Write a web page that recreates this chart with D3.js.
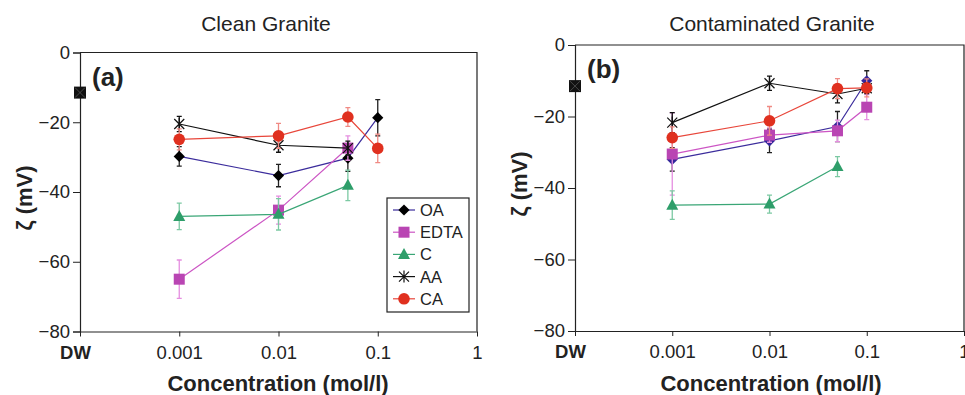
<!DOCTYPE html>
<html>
<head>
<meta charset="utf-8">
<script src="https://cdn.jsdelivr.net/npm/d3@7"></script>
<style>
  body { margin: 0; background: #fff; }
  svg { display: block; font-family: "Liberation Sans", Arial, sans-serif; }
</style>
</head>
<body>
<svg id="chart" width="965" height="395"></svg>
<script>
// concentrations (mol/l), DW plotted at left edge (1e-4)
var conc = [0.001, 0.01, 0.05, 0.1];
var xTicks = [0.0001, 0.001, 0.01, 0.1, 1];
var xTickLabels = ["DW", "0.001", "0.01", "0.1", "1"];
var yTicks = [0, -20, -40, -60, -80];
var seriesNames = ["OA", "EDTA", "C", "AA", "CA"];
var dwValue = -11.5;

// Clean granite (a)
var cleanOA = [-29.8, -35.3, -30.3, -18.7];
var cleanOAErr = [2.8, 3.2, 3.8, 5.2];
var cleanEDTA = [-65.0, -45.2, -27.4, null];
var cleanEDTAErr = [5.5, 4.0, 3.5, null];
var cleanC = [-47.0, -46.4, -38.1, null];
var cleanCErr = [3.8, 4.5, 4.4, null];
var cleanAA = [-20.5, -26.6, -27.4, null];
var cleanAAErr = [2.2, 2.0, 2.0, null];
var cleanCA = [-24.9, -23.9, -18.5, -27.5];
var cleanCAErr = [3.0, 3.6, 2.7, 4.1];

// Contaminated granite (b)
var contOA = [-32.0, -26.8, -22.8, -10.0];
var contOAErr = [3.3, 3.3, 4.2, 2.8];
var contEDTA = [-30.5, -25.2, -24.0, -17.4];
var contEDTAErr = [11.5, 2.0, 3.0, 3.5];
var contC = [-44.8, -44.5, -34.0, null];
var contCErr = [4.0, 2.5, 2.8, null];
var contAA = [-21.7, -10.7, -13.7, -12.1];
var contAAErr = [2.8, 2.0, 2.5, 1.5];
var contCA = [-25.9, -21.2, -12.2, -12.0];
var contCAErr = [3.0, 4.0, 2.8, 2.5];

var style = {
  OA:   { line: "#3b2c9c", err: "#222", sym: "diamond" },
  EDTA: { line: "#cc55c4", err: "#e58ee0", fill: "#b945b3", sym: "square" },
  C:    { line: "#3aa676", err: "#7cc9a3", fill: "#2e9e6a", sym: "triangle" },
  AA:   { line: "#111", err: "#111", fill: "none", sym: "star" },
  CA:   { line: "#e8463a", err: "#f08a84", fill: "#e0301f", sym: "circle" }
};

var svg = d3.select("#chart");

function drawMarker(g, name, x, y, fillOverride) {
  var s = style[name];
  if (s.sym === "diamond") {
    g.append("path").attr("d", d3.symbol(d3.symbolDiamond2 || d3.symbolDiamond, 80)())
      .attr("transform", "translate(" + x + "," + y + ")")
      .attr("fill", fillOverride || "#000");
  } else if (s.sym === "square") {
    g.append("rect").attr("x", x - 5.5).attr("y", y - 5.5).attr("width", 11).attr("height", 11)
      .attr("fill", s.fill);
  } else if (s.sym === "triangle") {
    g.append("path").attr("d", "M" + x + "," + (y - 6.5) + "L" + (x + 6) + "," + (y + 4.5) + "L" + (x - 6) + "," + (y + 4.5) + "Z")
      .attr("fill", s.fill);
  } else if (s.sym === "star") {
    g.append("path").attr("d", "M" + (x - 5) + "," + (y - 5) + "L" + (x + 5) + "," + (y + 5) + "M" + (x + 5) + "," + (y - 5) + "L" + (x - 5) + "," + (y + 5) + "M" + x + "," + (y - 6) + "L" + x + "," + (y + 6))
      .attr("stroke", "#111").attr("stroke-width", 1.2).attr("fill", "none");
  } else {
    g.append("circle").attr("cx", x).attr("cy", y).attr("r", 5.8).attr("fill", s.fill);
  }
}

function panel(opt) {
  var x = d3.scaleLog().domain([0.0001, 1]).range([opt.x0, opt.x1]);
  var y = d3.scaleLinear().domain([-80, 0]).range([opt.y1, opt.y0]);
  var g = svg.append("g");

  // frame (top/right)
  g.append("path")
    .attr("d", "M" + opt.x0 + "," + opt.y0 + "H" + opt.x1 + "V" + opt.y1)
    .attr("fill", "none").attr("stroke", "#222").attr("stroke-width", 1.2);

  var ya = g.append("g").attr("transform", "translate(" + opt.x0 + ",0)")
    .call(d3.axisLeft(y).tickValues(yTicks).tickSize(7).tickPadding(3).tickFormat(d3.format("d")));
  ya.select(".domain").attr("stroke", "#222").attr("stroke-width", 1.2);
  ya.selectAll(".tick line").attr("stroke", "#222");
  ya.selectAll("text").attr("font-size", 18.5).attr("fill", "#222").attr("font-family", "Liberation Sans, Arial, sans-serif");

  var xa = g.append("g").attr("transform", "translate(0," + opt.y1 + ")")
    .call(d3.axisBottom(x).tickValues(xTicks).tickSize(5).tickSizeOuter(0).tickPadding(9)
      .tickFormat(function(d, i) { return xTickLabels[i]; }));
  xa.select(".domain").attr("stroke", "#222").attr("stroke-width", 1.2);
  xa.selectAll(".tick line").attr("stroke", "#222");
  xa.selectAll("text").attr("font-size", 18.5).attr("fill", "#222").attr("font-family", "Liberation Sans, Arial, sans-serif")
    .attr("font-weight", function(d, i) { return i === 0 ? "bold" : null; })
    .attr("dx", function(d, i) { return i === 0 ? -5 : 0; });

  // titles
  g.append("text").attr("x", opt.titleX).attr("y", 31).attr("text-anchor", "middle")
    .attr("font-size", 21).attr("fill", "#222").text(opt.title);
  g.append("text").attr("x", opt.xlabX).attr("y", 391).attr("text-anchor", "middle")
    .attr("font-size", 22).attr("font-weight", "bold").attr("fill", "#222").text("Concentration (mol/l)");
  g.append("text").attr("transform", "translate(" + opt.ylabX + "," + opt.ylabY + ") rotate(-90)")
    .attr("text-anchor", "middle").attr("font-size", 22).attr("font-weight", "bold").attr("fill", "#222")
    .text("\u03B6 (mV)");
  g.append("text").attr("x", opt.x0 + 12).attr("y", opt.y0 + 33).attr("font-size", 26).attr("font-weight", "bold")
    .attr("fill", "#222").text(opt.tag);

  // series
  opt.data.forEach(function(s) {
    var pts = conc.map(function(c, i) { return { c: c, v: s.vals[i], e: s.errs[i] }; })
      .filter(function(d) { return d.v !== null; });
    var st = style[s.name];
    pts.forEach(function(d) {
      var cx = x(d.c);
      g.append("path")
        .attr("d", "M" + cx + "," + y(d.v - d.e) + "V" + y(d.v + d.e) +
          "M" + (cx - 2.5) + "," + y(d.v - d.e) + "H" + (cx + 2.5) +
          "M" + (cx - 2.5) + "," + y(d.v + d.e) + "H" + (cx + 2.5))
        .attr("stroke", st.err).attr("stroke-width", 1.3).attr("fill", "none");
    });
    g.append("path").datum(pts)
      .attr("d", d3.line().x(function(d) { return x(d.c); }).y(function(d) { return y(d.v); }))
      .attr("fill", "none").attr("stroke", st.line).attr("stroke-width", 1.2);
    pts.forEach(function(d) {
      drawMarker(g, s.name, x(d.c), y(d.v), s.name === "OA" ? opt.oaFill : null);
    });
  });

  // DW point
  var dx = x(0.0001), dy = y(dwValue);
  g.append("rect").attr("x", dx - 6).attr("y", dy - 6).attr("width", 12).attr("height", 12).attr("fill", "#111");
  g.append("path").attr("d", "M" + (dx - 5) + "," + (dy - 5) + "L" + (dx + 5) + "," + (dy + 5) + "M" + (dx + 5) + "," + (dy - 5) + "L" + (dx - 5) + "," + (dy + 5))
    .attr("stroke", "#555").attr("stroke-width", 0.8);

  if (opt.legend) {
    var lg = g.append("g").attr("transform", "translate(387,198)");
    lg.append("rect").attr("width", 82).attr("height", 114).attr("fill", "#fff").attr("stroke", "#222").attr("stroke-width", 1.2);
    seriesNames.forEach(function(n, i) {
      var ry = 12 + i * 22.2;
      lg.append("line").attr("x1", 6).attr("x2", 28).attr("y1", ry).attr("y2", ry)
        .attr("stroke", style[n].line).attr("stroke-width", 1.2);
      drawMarker(lg, n, 17, ry, "#000");
      lg.append("text").attr("x", 33).attr("y", ry + 6).attr("font-size", 16.5).attr("fill", "#222").text(n);
    });
  }
}

panel({
  x0: 80, x1: 477, y0: 52.5, y1: 331.5, title: "Clean Granite", titleX: 266, xlabX: 278,
  ylabX: 32, ylabY: 198, tag: "(a)", legend: true,
  oaFill: "#000",
  data: [
    { name: "OA", vals: cleanOA, errs: cleanOAErr },
    { name: "EDTA", vals: cleanEDTA, errs: cleanEDTAErr },
    { name: "C", vals: cleanC, errs: cleanCErr },
    { name: "AA", vals: cleanAA, errs: cleanAAErr },
    { name: "CA", vals: cleanCA, errs: cleanCAErr }
  ]
});

panel({
  x0: 575, x1: 964, y0: 45, y1: 331, title: "Contaminated Granite", titleX: 772, xlabX: 771,
  ylabX: 527, ylabY: 184, tag: "(b)", legend: false,
  oaFill: "#33269a",
  data: [
    { name: "OA", vals: contOA, errs: contOAErr },
    { name: "EDTA", vals: contEDTA, errs: contEDTAErr },
    { name: "C", vals: contC, errs: contCErr },
    { name: "AA", vals: contAA, errs: contAAErr },
    { name: "CA", vals: contCA, errs: contCAErr }
  ]
});
</script>
</body>
</html>
